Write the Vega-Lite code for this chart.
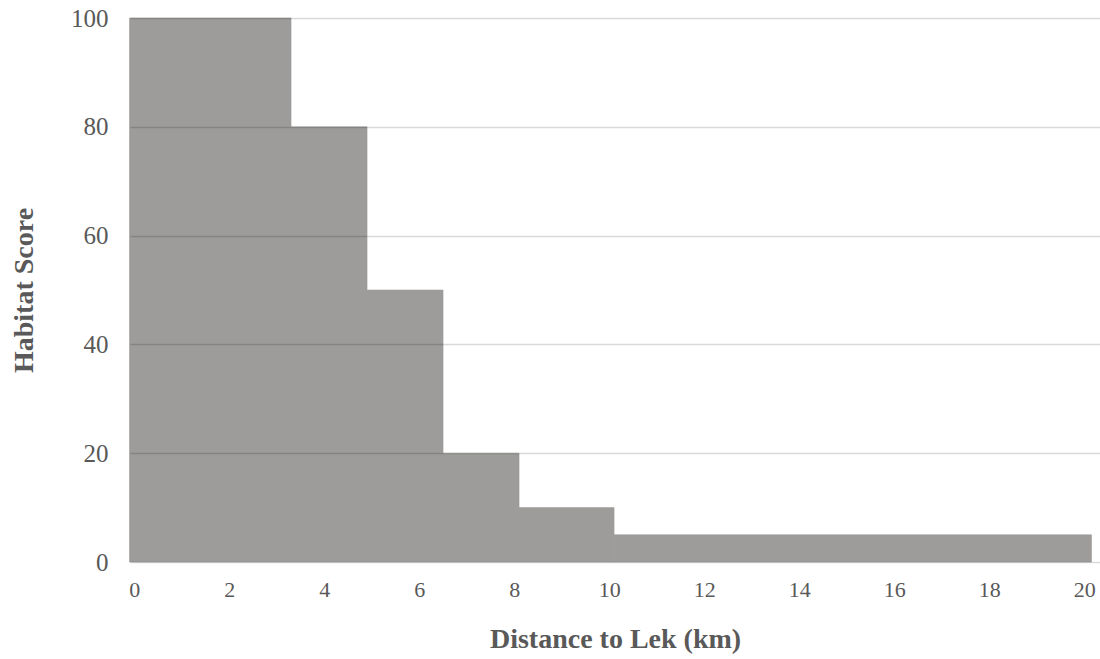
{
  "$schema": "https://vega.github.io/schema/vega-lite/v6.json",
  "width": 970,
  "height": 544,
  "autosize": {"type": "none"},
  "padding": {"left": 130, "top": 18, "right": 0, "bottom": 97},
  "background": "white",
  "config": {
    "view": {"stroke": null},
    "font": "Liberation Serif"
  },
  "data": {
    "values": [
      {"start": -0.1, "end": 3.3, "score": 100},
      {"start": 3.3, "end": 4.9, "score": 80},
      {"start": 4.9, "end": 6.5, "score": 50},
      {"start": 6.5, "end": 8.1, "score": 20},
      {"start": 8.1, "end": 10.1, "score": 10},
      {"start": 10.1, "end": 20.15, "score": 5}
    ]
  },
  "mark": {"type": "rect", "color": "#9d9c9a", "stroke": "#9d9c9a", "strokeWidth": 0.6},
  "encoding": {
    "x": {
      "field": "start",
      "type": "quantitative",
      "scale": {"domain": [-0.09, 20.33], "nice": false, "zero": false},
      "axis": {
        "values": [0, 2, 4, 6, 8, 10, 12, 14, 16, 18, 20],
        "grid": false,
        "domain": false,
        "ticks": false,
        "labelFontSize": 22,
        "labelColor": "#595959",
        "labelPadding": 17,
        "labelFlush": false,
        "title": "Distance to Lek (km)",
        "titleFontSize": 28,
        "titleFontWeight": "bold",
        "titleColor": "#595959",
        "titlePadding": 25
      }
    },
    "x2": {"field": "end"},
    "y": {
      "field": "score",
      "type": "quantitative",
      "scale": {"domain": [0, 100], "nice": false},
      "axis": {
        "values": [0, 20, 40, 60, 80, 100],
        "grid": true,
        "gridColor": "#000000",
        "gridOpacity": 0.15,
        "gridWidth": 1.5,
        "domain": false,
        "ticks": false,
        "labelFontSize": 25,
        "labelColor": "#595959",
        "labelPadding": 22,
        "title": "Habitat Score",
        "titleFontSize": 28,
        "titleFontWeight": "bold",
        "titleColor": "#595959",
        "titlePadding": 32,
        "zindex": 1
      }
    },
    "y2": {"datum": 0}
  }
}
